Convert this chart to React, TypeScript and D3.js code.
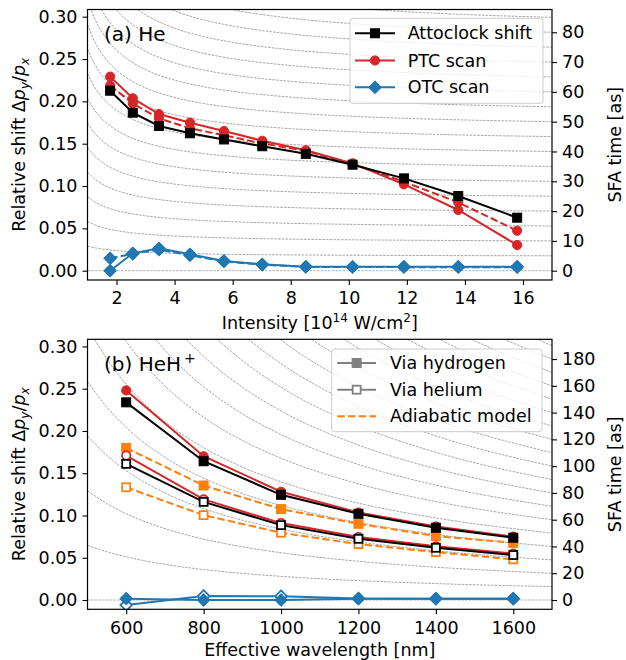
import { useEffect, useRef } from 'react';
import * as d3 from 'd3';

const W = 626;
const H = 660;
const FONT = 'DejaVu Sans, sans-serif';
const FS = '17.5px';
const LEFT = 87.5;
const RIGHT = 552;

const BLACK = '#000000';
const RED = '#d62728';
const BLUE = '#1f77b4';
const ORANGE = '#ff7f0e';
const GREY = '#808080';

// ---------- panel (a) He : intensity scan ----------
const intensity = [1.78, 2.56, 3.46, 4.53, 5.7, 7.02, 8.52, 10.13, 11.9, 13.77, 15.8];
const heAttoclock = [0.2126, 0.1866, 0.1709, 0.1623, 0.155, 0.147, 0.138, 0.1252, 0.109, 0.0882, 0.0626];
const hePtcScan = [0.2292, 0.2036, 0.185, 0.1748, 0.165, 0.1535, 0.1422, 0.1268, 0.102, 0.0717, 0.0303];
const hePtcDashed = [0.2186, 0.1976, 0.18, 0.1682, 0.16, 0.1504, 0.1415, 0.1262, 0.105, 0.0807, 0.0472];
const heOtcScan = [0.0, 0.0205, 0.0264, 0.0194, 0.0115, 0.0075, 0.0047, 0.0047, 0.0047, 0.0047, 0.0047];
const heOtcDashed = [0.0146, 0.02, 0.0248, 0.0182, 0.011, 0.007, 0.0045, 0.0043, 0.0042, 0.0042, 0.0042];

// background iso-time lines: shift per attosecond, read along the intensity axis
const heGridI = [1, 1.25, 1.5, 1.75, 2, 2.5, 3, 4, 5, 6, 8, 10, 12, 14, 17];
const heShiftPerAs = [0.005817, 0.005411, 0.005122, 0.004906, 0.004737, 0.00449, 0.004318, 0.004092, 0.00395, 0.003853, 0.003728, 0.003651, 0.003598, 0.00356, 0.00352];

const heXTicks = [2, 4, 6, 8, 10, 12, 14, 16];
const heSfaTicks = [0, 10, 20, 30, 40, 50, 60, 70, 80];

// ---------- panel (b) HeH+ : wavelength scan ----------
const wavelength = [600, 800, 1000, 1200, 1400, 1600];
const hydAttoclock = [0.2339, 0.1642, 0.1245, 0.102, 0.0855, 0.0737];
const hydPtc = [0.248, 0.1701, 0.1281, 0.1035, 0.087, 0.075];
const hydAdiabatic = [0.18, 0.1355, 0.1075, 0.0902, 0.0756, 0.0677];
const hydOtc = [0.0016, 0.0, 0.0, 0.0016, 0.0016, 0.0016];
const helAttoclock = [0.1611, 0.1161, 0.0886, 0.0724, 0.0618, 0.0532];
const helPtc = [0.1709, 0.119, 0.091, 0.0745, 0.0635, 0.055];
const helAdiabatic = [0.1334, 0.1004, 0.0796, 0.0661, 0.0567, 0.0481];
const helOtc = [-0.006, 0.0047, 0.0045, 0.0018, 0.0016, 0.0016];

const hehGridL = [500, 550, 600, 700, 800, 900, 1000, 1200, 1400, 1700];
const hehShiftPerAs = [0.006466, 0.005704, 0.005105, 0.004222, 0.003605, 0.003148, 0.002797, 0.002291, 0.001942, 0.001584];

const hehXTicks = [600, 800, 1000, 1200, 1400, 1600];
const hehSfaTicks = [0, 20, 40, 60, 80, 100, 120, 140, 160, 180];

const shiftTicks = [0, 0.05, 0.1, 0.15, 0.2, 0.25, 0.3];

type Marker = 'square' | 'circle' | 'diamond' | null;
type Series = { y: number[]; color: string; dash?: boolean; marker: Marker; open?: boolean };
type LegendItem = { label: string; color: string; marker: Marker; open?: boolean; dash?: boolean };

const drawMarker = (g: any, px: number, py: number, marker: Marker, color: string, open?: boolean) => {
    const fill = open ? '#ffffff' : color;
    const sw = open ? 1.8 : 1;
    if (marker === 'square') {
        const s = open ? 8 : 9;
        g.append('rect')
            .attr('x', px - s / 2).attr('y', py - s / 2)
            .attr('width', s).attr('height', s)
            .attr('fill', fill).attr('stroke', color).attr('stroke-width', sw);
    } else if (marker === 'circle') {
        g.append('circle')
            .attr('cx', px).attr('cy', py).attr('r', open ? 4.2 : 4.6)
            .attr('fill', fill).attr('stroke', color).attr('stroke-width', sw);
    } else if (marker === 'diamond') {
        const r = open ? 5.8 : 6.4;
        g.append('path')
            .attr('d', `M${px},${py - r}L${px + r},${py}L${px},${py + r}L${px - r},${py}Z`)
            .attr('fill', fill).attr('stroke', color).attr('stroke-width', sw);
    }
};

const drawPanel = (svg: any, cfg: any) => {
    const { id, top, bottom } = cfg;
    const x = d3.scaleLinear().domain(cfg.xDomain).range([LEFT, RIGHT]);
    const y = d3.scaleLinear().domain(cfg.yDomain).range([bottom, top]);
    const hEdge = cfg.gridH[cfg.gridH.length - 1];
    const yr = d3.scaleLinear()
        .domain([cfg.yDomain[0] / hEdge, cfg.yDomain[1] / hEdge])
        .range([bottom, top]);

    svg.append('defs').append('clipPath').attr('id', `clip-${id}`)
        .append('rect')
        .attr('x', LEFT).attr('y', top)
        .attr('width', RIGHT - LEFT).attr('height', bottom - top);

    const plot = svg.append('g').attr('clip-path', `url(#clip-${id})`);

    // iso-SFA-time guide lines
    const guide = d3.line<[number, number]>()
        .x(d => x(d[0]))
        .y(d => d[1])
        .curve(d3.curveMonotoneX);
    cfg.levels.forEach((tau: number) => {
        const pts: [number, number][] = cfg.gridX.map((xi: number, i: number) => [xi, y(tau * cfg.gridH[i])]);
        plot.append('path')
            .attr('d', guide(pts))
            .attr('fill', 'none')
            .attr('stroke', tau === 0 ? '#a8a8a8' : GREY)
            .attr('stroke-width', tau === 0 ? 0.9 : 0.7)
            .attr('stroke-dasharray', '2.6,1.1');
    });

    // data series
    const line = d3.line<number>()
        .x((_, i) => x(cfg.xs[i]))
        .y(d => y(d));
    cfg.series.forEach((s: Series) => {
        plot.append('path')
            .attr('d', line(s.y))
            .attr('fill', 'none')
            .attr('stroke', s.color)
            .attr('stroke-width', 2)
            .attr('stroke-dasharray', s.dash ? '7.5,3.2' : null);
        s.y.forEach((v, i) => drawMarker(plot, x(cfg.xs[i]), y(v), s.marker, s.color, s.open));
    });

    // axes
    const styleAxis = (g: any) => {
        g.select('.domain').remove();
        g.selectAll('line').attr('stroke', BLACK).attr('stroke-width', 1.1);
        g.selectAll('text').attr('fill', BLACK).style('font-family', FONT).style('font-size', FS);
    };

    svg.append('g')
        .attr('transform', `translate(0,${bottom})`)
        .call(d3.axisBottom(x).tickValues(cfg.xTicks).tickSize(5).tickPadding(7).tickFormat(d3.format('d')))
        .call(styleAxis);

    svg.append('g')
        .attr('transform', `translate(${LEFT},0)`)
        .call(d3.axisLeft(y).tickValues(shiftTicks).tickSize(5).tickPadding(5).tickFormat(d3.format('.2f')))
        .call(styleAxis);

    svg.append('g')
        .attr('transform', `translate(${RIGHT},0)`)
        .call(d3.axisRight(yr).tickValues(cfg.sfaTicks).tickSize(5).tickPadding(5).tickFormat(d3.format('d')))
        .call(styleAxis);

    svg.append('rect')
        .attr('x', LEFT).attr('y', top)
        .attr('width', RIGHT - LEFT).attr('height', bottom - top)
        .attr('fill', 'none').attr('stroke', BLACK).attr('stroke-width', 1.2);

    // panel title
    const title = svg.append('text')
        .attr('x', 104).attr('y', top + 31.5)
        .style('font-family', FONT).style('font-size', '20px')
        .text(cfg.title);
    if (cfg.titleSup) {
        title.append('tspan').attr('dx', 3).attr('dy', -8).style('font-size', '14px').text(cfg.titleSup);
    }

    // left label
    const mid = (top + bottom) / 2;
    const yl = svg.append('text')
        .attr('transform', `translate(25,${mid}) rotate(-90)`)
        .attr('text-anchor', 'middle')
        .style('font-family', FONT).style('font-size', FS);
    yl.append('tspan').text('Relative shift Δ');
    yl.append('tspan').style('font-style', 'italic').text('p');
    yl.append('tspan').style('font-style', 'italic').style('font-size', '12px').attr('dy', 4).text('y');
    yl.append('tspan').attr('dy', -4).text('/');
    yl.append('tspan').style('font-style', 'italic').text('p');
    yl.append('tspan').style('font-style', 'italic').style('font-size', '12px').attr('dy', 4).text('x');

    // right label
    svg.append('text')
        .attr('transform', `translate(621,${mid}) rotate(-90)`)
        .attr('text-anchor', 'middle')
        .style('font-family', FONT).style('font-size', FS)
        .text('SFA time [as]');

    // x label
    const xl = svg.append('text')
        .attr('x', (LEFT + RIGHT) / 2).attr('y', bottom + cfg.xlabelOffset)
        .attr('text-anchor', 'middle')
        .style('font-family', FONT).style('font-size', FS);
    cfg.xlabel.forEach((part: { t: string; sup?: boolean }, i: number) => {
        const prevSup = i > 0 && cfg.xlabel[i - 1].sup;
        const ts = xl.append('tspan').text(part.t);
        if (part.sup) ts.attr('dy', -7).style('font-size', '12px');
        else if (prevSup) ts.attr('dy', 7);
    });

    // legend
    const lg = cfg.legend;
    svg.append('rect')
        .attr('x', lg.x).attr('y', lg.y)
        .attr('width', lg.w).attr('height', lg.h)
        .attr('rx', 3)
        .attr('fill', '#ffffff').attr('fill-opacity', 0.8)
        .attr('stroke', '#cccccc').attr('stroke-width', 1);
    lg.items.forEach((it: LegendItem, i: number) => {
        const cy = lg.rows[i];
        svg.append('line')
            .attr('x1', lg.x0).attr('x2', lg.x1)
            .attr('y1', cy).attr('y2', cy)
            .attr('stroke', it.color).attr('stroke-width', 2)
            .attr('stroke-dasharray', it.dash ? '7.5,3.2' : null);
        drawMarker(svg, (lg.x0 + lg.x1) / 2, cy, it.marker, it.color, it.open);
        svg.append('text')
            .attr('x', lg.tx).attr('y', cy + 6)
            .style('font-family', FONT).style('font-size', FS)
            .text(it.label);
    });
};

const panelA = {
    id: 'a',
    top: 9.5,
    bottom: 280,
    xDomain: [1, 17],
    yDomain: [-0.011, 0.3085],
    xs: intensity,
    xTicks: heXTicks,
    sfaTicks: heSfaTicks,
    gridX: heGridI,
    gridH: heShiftPerAs,
    levels: d3.range(0, 95, 5),
    series: [
        { y: hePtcDashed, color: RED, dash: true, marker: 'circle' },
        { y: hePtcScan, color: RED, marker: 'circle' },
        { y: heAttoclock, color: BLACK, marker: 'square' },
        { y: heOtcDashed, color: BLUE, dash: true, marker: 'diamond' },
        { y: heOtcScan, color: BLUE, marker: 'diamond' },
    ],
    title: '(a) He',
    xlabel: [{ t: 'Intensity [10' }, { t: '14', sup: true }, { t: ' W/cm' }, { t: '2', sup: true }, { t: ']' }],
    xlabelOffset: 49,
    legend: {
        x: 350, y: 18.3, w: 193, h: 85,
        x0: 355, x1: 395, tx: 407.7,
        rows: [33.3, 60.5, 87.3],
        items: [
            { label: 'Attoclock shift', color: BLACK, marker: 'square' },
            { label: 'PTC scan', color: RED, marker: 'circle' },
            { label: 'OTC scan', color: BLUE, marker: 'diamond' },
        ],
    },
};

const panelB = {
    id: 'b',
    top: 339.3,
    bottom: 609.3,
    xDomain: [500, 1700],
    yDomain: [-0.011, 0.3085],
    xs: wavelength,
    xTicks: hehXTicks,
    sfaTicks: hehSfaTicks,
    gridX: hehGridL,
    gridH: hehShiftPerAs,
    levels: d3.range(0, 200, 10),
    series: [
        { y: hydAdiabatic, color: ORANGE, dash: true, marker: 'square' },
        { y: helAdiabatic, color: ORANGE, dash: true, marker: 'square', open: true },
        { y: hydPtc, color: RED, marker: 'circle' },
        { y: helPtc, color: RED, marker: 'circle', open: true },
        { y: hydAttoclock, color: BLACK, marker: 'square' },
        { y: helAttoclock, color: BLACK, marker: 'square', open: true },
        { y: helOtc, color: BLUE, marker: 'diamond', open: true },
        { y: hydOtc, color: BLUE, marker: 'diamond' },
    ],
    title: '(b) HeH',
    titleSup: '+',
    xlabel: [{ t: 'Effective wavelength [nm]' }],
    xlabelOffset: 47,
    legend: {
        x: 331.7, y: 349, w: 210.3, h: 82.7,
        x0: 337.3, x1: 376, tx: 390,
        rows: [363, 389.7, 416.3],
        items: [
            { label: 'Via hydrogen', color: GREY, marker: 'square' },
            { label: 'Via helium', color: GREY, marker: 'square', open: true },
            { label: 'Adiabatic model', color: ORANGE, marker: null, dash: true },
        ],
    },
};

const App = () => {
    const svgRef = useRef<SVGSVGElement>(null);

    useEffect(() => {
        const svg = d3.select(svgRef.current);
        svg.selectAll('*').remove();
        drawPanel(svg, panelA);
        drawPanel(svg, panelB);
    }, []);

    return (
        <svg
            ref={svgRef}
            width={W}
            height={H}
            style={{ position: 'absolute', left: 0, top: 0, background: '#ffffff' }}
        />
    );
};

export default App;
